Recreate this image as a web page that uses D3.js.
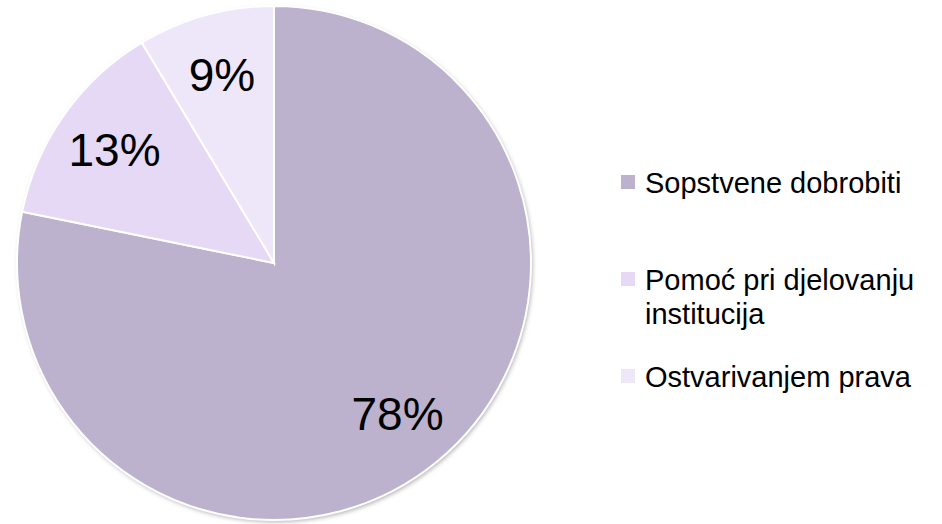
<!DOCTYPE html>
<html>
<head>
<meta charset="utf-8">
<script src="https://cdn.jsdelivr.net/npm/d3@7"></script>
<style>
  body { margin: 0; background: #fff; }
  text { font-family: "Liberation Sans", Arial, sans-serif; }
</style>
</head>
<body>
<div id="chart"></div>
<script>
// data (slice sizes, labels as printed)
var categories = ["Sopstvene dobrobiti", "Pomoć pri djelovanju institucija", "Ostvarivanjem prava"];
var legendLines = [["Sopstvene dobrobiti"], ["Pomoć pri djelovanju", "institucija"], ["Ostvarivanjem prava"]];
var values = [78.2, 13.2, 8.6];
var sliceLabels = ["78%", "13%", "9%"];
var colors = ["#bcb2cd", "#e5d9f6", "#eee7f9"];

var width = 942, height = 524;
var cx = 274, cy = 263, radius = 257;

var svg = d3.select("#chart").append("svg")
    .attr("width", width)
    .attr("height", height);

// soft shadow under the pie
var defs = svg.append("defs");
var filter = defs.append("filter").attr("id", "shadow")
    .attr("x", "-10%").attr("y", "-10%").attr("width", "120%").attr("height", "120%");
filter.append("feDropShadow")
    .attr("dx", 1.5).attr("dy", 2).attr("stdDeviation", 2)
    .attr("flood-color", "#000").attr("flood-opacity", 0.3);

var pie = d3.pie().sort(null).value(d => d);
var arcs = pie(values);

var arc = d3.arc().innerRadius(0).outerRadius(radius);
var labelArc = d3.arc().innerRadius(radius * 0.76).outerRadius(radius * 0.76);

var g = svg.append("g").attr("transform", `translate(${cx},${cy})`);

g.append("circle")
    .attr("r", radius)
    .attr("fill", "#fff")
    .attr("filter", "url(#shadow)");

g.selectAll("path.slice")
    .data(arcs)
    .join("path")
    .attr("class", "slice")
    .attr("d", arc)
    .attr("fill", (d, i) => colors[i])
    .attr("stroke", "#fff")
    .attr("stroke-width", 2);

g.selectAll("text.pct")
    .data(arcs)
    .join("text")
    .attr("class", "pct")
    .attr("transform", d => `translate(${labelArc.centroid(d)})`)
    .attr("text-anchor", "middle")
    .attr("dy", "0.35em")
    .attr("font-size", 46)
    .attr("fill", "#000")
    .text((d, i) => sliceLabels[i]);

// legend
var legendY = d3.scalePoint().domain(categories).range([175, 369]);
var legend = svg.append("g").attr("class", "legend");
var items = legend.selectAll("g")
    .data(categories)
    .join("g")
    .attr("transform", d => `translate(621,${legendY(d)})`);

items.append("rect")
    .attr("x", 0).attr("y", 0)
    .attr("width", 14).attr("height", 14)
    .attr("fill", (d, i) => colors[i]);

items.append("text")
    .attr("x", 24)
    .attr("y", 18)
    .attr("font-size", 29)
    .attr("fill", "#000")
    .selectAll("tspan")
    .data((d, i) => legendLines[i])
    .join("tspan")
    .attr("x", 24)
    .attr("dy", (d, j) => j === 0 ? 0 : 34)
    .text(d => d);
</script>
</body>
</html>
